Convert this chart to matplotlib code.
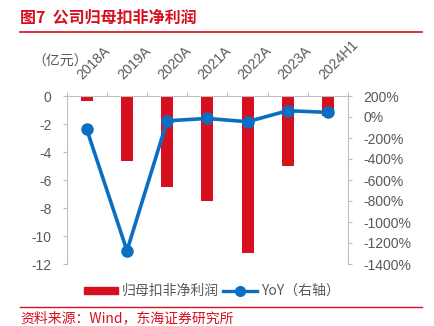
import matplotlib
matplotlib.use("Agg")
import matplotlib.pyplot as plt
from matplotlib.lines import Line2D
from matplotlib.patches import Patch
import numpy as np

plt.rcParams['font.family'] = ['Liberation Sans', 'Noto Sans CJK SC', 'DejaVu Sans']
CJK = ['Noto Sans CJK SC', 'DejaVu Sans']

categories = ["2018A", "2019A", "2020A", "2021A", "2022A", "2023A", "2024H1"]
profit = [-0.33, -4.66, -6.51, -7.51, -11.24, -5.0, -1.41]
yoy = [-119, -1273, -36, -14, -45, 60, 44]
left_ticks = [0, -2, -4, -6, -8, -10, -12]
right_ticks = [200, 0, -200, -400, -600, -800, -1000, -1200, -1400]

RED = "#d7101f"
BLUE = "#0a6fc2"
GRAY = "#bfbfbf"
TXT = "#595959"

fig = plt.figure(figsize=(4.34, 3.26), dpi=100)
ax = fig.add_axes([66.7/434, (326-264)/326, (348-66.7)/434, (264-96)/326])
x = np.arange(len(categories))
ax.bar(x, profit, width=0.3, color=RED, zorder=2)
ax.set_xlim(-0.5, len(categories)-0.5)
ax.set_ylim(-12, 0)
ax.set_yticks(left_ticks)
ax.set_yticklabels([str(v) for v in left_ticks])
ax.tick_params(axis='y', colors=GRAY, labelcolor=TXT, labelsize=10, length=3, width=0.8,
               direction='out', pad=8)
for s in ['right', 'bottom']:
    ax.spines[s].set_visible(False)
ax.spines['left'].set_color(GRAY)
ax.spines['top'].set_color(GRAY)
ax.spines['top'].set_position(('data', 0))
ax.xaxis.set_ticks_position('top')
ax.set_xticks(np.arange(-0.5, len(categories), 1.0), minor=False)
ax.set_xticklabels([])
ax.tick_params(axis='x', colors=GRAY, length=3, width=0.8, direction='out')
for i, c in enumerate(categories):
    ax.text(i - 0.05, 1.08, c, transform=ax.get_xaxis_transform(), rotation=45,
            ha='left', va='bottom', fontsize=10, color=TXT, rotation_mode='anchor')

ax2 = ax.twinx()
ax2.plot(x, yoy, color=BLUE, lw=2.6, marker='o', ms=8, zorder=3)
ax2.set_ylim(-1400, 200)
ax2.set_yticks(right_ticks)
ax2.set_yticklabels([f"{v}%" for v in right_ticks])
ax2.tick_params(axis='y', colors=GRAY, labelcolor=TXT, labelsize=10, length=3, width=0.8, pad=8)
for s in ['left', 'top', 'bottom']:
    ax2.spines[s].set_visible(False)
ax2.spines['right'].set_color(GRAY)

fig.text(60/434, 1-62/326, "（亿元）", fontsize=10, color=TXT, ha='center', va='center', family=CJK)

# title
fig.text(20/434, 1-18/326, "图7  公司归母扣非净利润", fontsize=11.5, color=RED, weight='bold',
         ha='left', va='center', family=CJK)
fig.add_artist(Line2D([20/434, 422/434], [1-32/326, 1-32/326], color=RED, lw=1.2))
fig.add_artist(Line2D([20/434, 422/434], [1-307/326, 1-307/326], color=RED, lw=1.0))
fig.text(20/434, 1-318/326, "资料来源：Wind，东海证券研究所", fontsize=10, color=RED,
         ha='left', va='center', family=CJK)

handles = [Patch(color=RED), Line2D([0], [0], color=BLUE, lw=2.4, marker='o', ms=7)]
fig.legend(handles, ["归母扣非净利润", "YoY（右轴）"], loc='center', bbox_to_anchor=(212/434, 1-291/326),
           ncol=2, frameon=False, prop={'family': CJK, 'size': 10}, labelcolor=TXT,
           handlelength=2.4, handletextpad=0.3, columnspacing=0.3, handleheight=0.4)

fig.savefig("out.png", dpi=100)
